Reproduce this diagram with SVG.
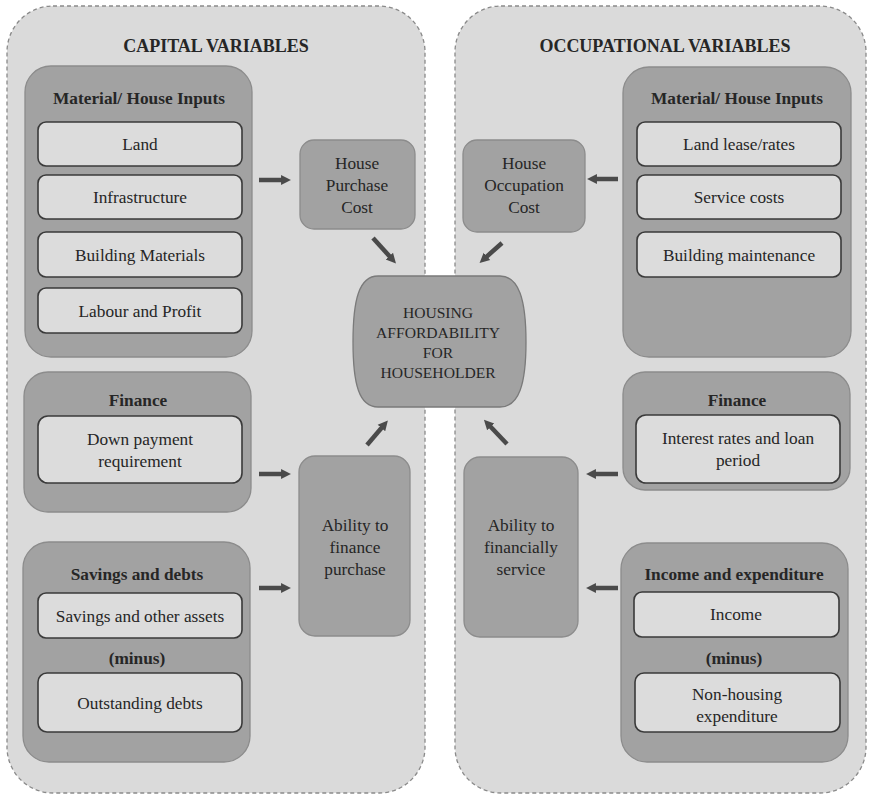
<svg xmlns="http://www.w3.org/2000/svg" width="870" height="796" viewBox="0 0 870 796">
  <style>
    .panel { fill: #dadada; stroke: #8a8a8a; stroke-width: 1.3; stroke-dasharray: 4 3; }
    .group { fill: #a2a2a2; stroke: #8c8c8c; stroke-width: 1.3; }
    .item { fill: #dcdcdc; stroke: #3a3a3a; stroke-width: 1.6; }
    .hub { fill: #a2a2a2; stroke: #7a7a7a; stroke-width: 1.3; }
    text { font-family: "Liberation Serif", "Times New Roman", serif; fill: #262626; text-anchor: middle; }
    .head { font-size: 18px; font-weight: bold; }
    .gtitle { font-size: 17.3px; font-weight: bold; }
    .lbl { font-size: 17.3px; }
    .hubtxt { font-size: 15.6px; }
    .conn line { stroke: #4a4a4a; stroke-width: 4.5; marker-end: url(#arr); }
  </style>
  <defs>
    <marker id="arr" viewBox="0 0 10 10" refX="4" refY="5" markerWidth="2.2" markerHeight="2.6" orient="auto" markerUnits="strokeWidth">
      <path d="M0,0 L10,5 L0,10 Z" fill="#4a4a4a"/>
    </marker>
  </defs>

  <rect width="870" height="796" fill="#ffffff"/>

  <!-- side panels -->
  <g id="capital-panel">
    <rect class="panel" x="7" y="6" width="418" height="787" rx="46" ry="46"/>
    <text class="head" x="216" y="52">CAPITAL VARIABLES</text>
  </g>
  <g id="occupational-panel">
    <rect class="panel" x="455" y="6" width="411" height="787" rx="46" ry="46"/>
    <text class="head" x="665" y="52">OCCUPATIONAL VARIABLES</text>
  </g>

  <!-- capital side -->
  <g id="cap-material">
    <rect class="group" x="25" y="66" width="227" height="291" rx="26"/>
    <text class="gtitle" x="139" y="104">Material/ House Inputs</text>
    <rect class="item" x="38" y="122" width="204" height="44" rx="8"/>
    <text class="lbl" x="140" y="150">Land</text>
    <rect class="item" x="38" y="175" width="204" height="44" rx="8"/>
    <text class="lbl" x="140" y="203">Infrastructure</text>
    <rect class="item" x="38" y="232" width="204" height="45" rx="8"/>
    <text class="lbl" x="140" y="261">Building Materials</text>
    <rect class="item" x="38" y="288" width="204" height="45" rx="8"/>
    <text class="lbl" x="140" y="317">Labour and Profit</text>
  </g>

  <g id="cap-finance">
    <rect class="group" x="24" y="372" width="227" height="140" rx="24"/>
    <text class="gtitle" x="138" y="406">Finance</text>
    <rect class="item" x="38" y="416" width="204" height="67" rx="10"/>
    <text class="lbl" x="140" y="445">Down payment</text>
    <text class="lbl" x="140" y="467">requirement</text>
  </g>

  <g id="cap-savings">
    <rect class="group" x="23" y="542" width="227" height="220" rx="26"/>
    <text class="gtitle" x="137" y="580">Savings and debts</text>
    <rect class="item" x="38" y="593" width="204" height="45" rx="8"/>
    <text class="lbl" x="140" y="622">Savings and other assets</text>
    <text class="gtitle" x="137" y="664">(minus)</text>
    <rect class="item" x="38" y="673" width="204" height="59" rx="9"/>
    <text class="lbl" x="140" y="709">Outstanding debts</text>
  </g>

  <g id="purchase-cost">
    <rect class="group" x="300" y="140" width="115" height="89" rx="14"/>
    <text class="lbl" x="357" y="169">House</text>
    <text class="lbl" x="357" y="191">Purchase</text>
    <text class="lbl" x="357" y="213">Cost</text>
  </g>

  <g id="finance-purchase">
    <rect class="group" x="299" y="456" width="111" height="180" rx="16"/>
    <text class="lbl" x="355" y="531">Ability to</text>
    <text class="lbl" x="355" y="553">finance</text>
    <text class="lbl" x="355" y="575">purchase</text>
  </g>

  <!-- occupational side -->
  <g id="occ-material">
    <rect class="group" x="623" y="67" width="228" height="290" rx="26"/>
    <text class="gtitle" x="737" y="104">Material/ House Inputs</text>
    <rect class="item" x="637" y="122" width="204" height="44" rx="8"/>
    <text class="lbl" x="739" y="150">Land lease/rates</text>
    <rect class="item" x="637" y="175" width="204" height="44" rx="8"/>
    <text class="lbl" x="739" y="203">Service costs</text>
    <rect class="item" x="637" y="232" width="204" height="45" rx="8"/>
    <text class="lbl" x="739" y="261">Building maintenance</text>
  </g>

  <g id="occ-finance">
    <rect class="group" x="623" y="372" width="227" height="118" rx="22"/>
    <text class="gtitle" x="737" y="406">Finance</text>
    <rect class="item" x="636" y="415" width="204" height="68" rx="10"/>
    <text class="lbl" x="738" y="444">Interest rates and loan</text>
    <text class="lbl" x="738" y="466">period</text>
  </g>

  <g id="occ-income">
    <rect class="group" x="621" y="543" width="227" height="219" rx="26"/>
    <text class="gtitle" x="734" y="580">Income and expenditure</text>
    <rect class="item" x="634" y="592" width="205" height="45" rx="8"/>
    <text class="lbl" x="736" y="620">Income</text>
    <text class="gtitle" x="734" y="664">(minus)</text>
    <rect class="item" x="635" y="673" width="205" height="59" rx="9"/>
    <text class="lbl" x="737" y="700">Non-housing</text>
    <text class="lbl" x="737" y="722">expenditure</text>
  </g>

  <g id="occupation-cost">
    <rect class="group" x="463" y="140" width="122" height="92" rx="14"/>
    <text class="lbl" x="524" y="169">House</text>
    <text class="lbl" x="524" y="191">Occupation</text>
    <text class="lbl" x="524" y="213">Cost</text>
  </g>

  <g id="financially-service">
    <rect class="group" x="464" y="457" width="114" height="180" rx="16"/>
    <text class="lbl" x="521" y="531">Ability to</text>
    <text class="lbl" x="521" y="553">financially</text>
    <text class="lbl" x="521" y="575">service</text>
  </g>

  <!-- central outcome -->
  <g id="affordability">
    <path class="hub" d="M378,276 L500,276 C519,276 526,300 526,342 C526,384 519,407 500,407 L378,407 C359,407 353,384 353,342 C353,300 359,276 378,276 Z"/>
    <text class="hubtxt" x="438" y="318">HOUSING</text>
    <text class="hubtxt" x="438" y="338">AFFORDABILITY</text>
    <text class="hubtxt" x="438" y="358">FOR</text>
    <text class="hubtxt" x="438" y="378">HOUSEHOLDER</text>
  </g>

  <!-- connectors -->
  <g id="connectors" class="conn">
    <line x1="259" y1="180" x2="285" y2="180"/>
    <line x1="259" y1="474" x2="285" y2="474"/>
    <line x1="259" y1="588" x2="285" y2="588"/>
    <line x1="373" y1="238" x2="392" y2="259"/>
    <line x1="367" y1="445" x2="384" y2="425"/>
    <line x1="618" y1="179" x2="593" y2="179"/>
    <line x1="618" y1="474" x2="592" y2="474"/>
    <line x1="618" y1="588" x2="592" y2="588"/>
    <line x1="502" y1="243" x2="484" y2="259"/>
    <line x1="507" y1="444" x2="488" y2="424"/>
  </g>
</svg>
